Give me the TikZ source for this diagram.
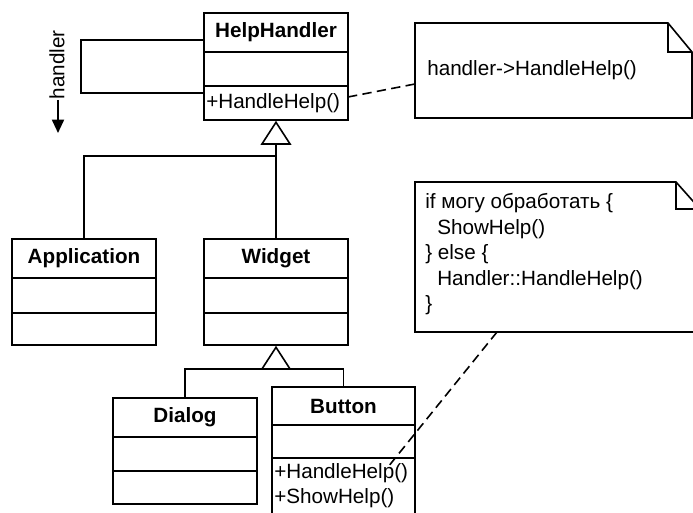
\documentclass[tikz,border=0pt]{standalone}
\usepackage{fontspec}
\setmainfont{Liberation Sans}
\usetikzlibrary{arrows.meta,fit,calc}
\begin{document}
\begin{tikzpicture}[x=0.75pt,y=-0.75pt, line join=miter,
  box/.style={draw, line width=1.2pt, inner sep=0pt},
  sep/.style={line width=1pt},
  ttl/.style={font=\fontsize{15.5}{18}\selectfont\bfseries, inner sep=0pt},
  txt/.style={font=\fontsize{15.5}{18}\selectfont, inner sep=0pt},
  inh/.style={line width=1.2pt, -{Triangle[open,length=18pt,width=23pt,line width=1.2pt]}},
  lnk/.style={line width=1.2pt},
  dsh/.style={line width=1.2pt, dash pattern=on 7pt off 4pt},
  notebox/.style={inner sep=0pt}]
\useasboundingbox (0,0) rectangle (693,513);

% HelpHandler
\node[box, fit={(204,13) (348,120)}] (hh) {};
\draw[sep] (204,52) -- (348,52) (204,86) -- (348,86);
\node[ttl] (hht) at (276,32.5) {HelpHandler};
\node[txt, anchor=west] (hhm) at (206,103) {+HandleHelp()};

% Application
\node[box, fit={(12,239) (156,345)}] (app) {};
\draw[sep] (12,278) -- (156,278) (12,313) -- (156,313);
\node[ttl] (appt) at (84,258.5) {Application};

% Widget
\node[box, fit={(204,239) (348,345)}] (wid) {};
\draw[sep] (204,278) -- (348,278) (204,313) -- (348,313);
\node[ttl] (widt) at (276,258.5) {Widget};

% Dialog
\node[box, fit={(113,398) (257,504)}] (dlg) {};
\draw[sep] (113,437) -- (257,437) (113,471) -- (257,471);
\node[ttl] (dlgt) at (185,417.5) {Dialog};

% Button
\node[box, fit={(272,387) (415,540)}] (btn) {};
\draw[sep] (272,425) -- (415,425) (272,458) -- (415,458);
\node[ttl] (btnt) at (343.5,406) {Button};
\node[txt, anchor=west] (btnm1) at (274,473) {+HandleHelp()};
\node[txt, anchor=west] (btnm2) at (274,498) {+ShowHelp()};

% self association
\coordinate (hhA) at (204,40);
\coordinate (hhB) at (204,93);
\coordinate (loopL) at (81,40);
\draw[lnk] (hhA) -- (loopL) |- (hhB);
\node[txt, rotate=90] (hlab) at (57,65) {handler};
\coordinate (harrA) at (58,100);
\coordinate (harrB) at (58,133);
\draw[line width=1.4pt, -{Triangle[length=10pt,width=9pt]}] (harrA) -- (harrB);

% inheritance
\coordinate (j1) at (276,156);
\draw[inh] (wid.north) -- (hh.south);
\draw[lnk] (app.north) |- (j1);
\coordinate (j2) at (276,369);
\draw[inh] (j2) -- (wid.south);
\draw[lnk] (dlg.north) |- (j2) -| (btn.north);

% note 1
\node[notebox, fit={(415,23) (692,118)}] (n1) {};
\draw[lnk] (415,23) -- (668,23) -- (692,52) -- (692,118) -- (415,118) -- cycle;
\draw[lnk] (668,23) -- (668,52) -- (692,52);
\node[txt, anchor=west] (n1t) at (427,70) {handler->HandleHelp()};
\coordinate (d1a) at (348,97);
\coordinate (d1b) at (415,84);
\draw[dsh] (d1a) -- (d1b);

% note 2
\node[notebox, fit={(415,182) (700,332)}] (n2) {};
\draw[lnk] (415,182) -- (676,182) -- (700,209) -- (700,332) -- (415,332) -- cycle;
\draw[lnk] (676,182) -- (676,209) -- (700,209);
\node[txt, anchor=north west, align=left, font=\fontsize{15.5}{18.6}\selectfont] (n2t) at (425,193)
  {if могу обработать \{\\[0.6pt]
   \hspace*{9pt}ShowHelp()\\[0.6pt]
   \} else \{\\[0.6pt]
   \hspace*{9pt}Handler::HandleHelp()\\[0.6pt]
   \}};
\coordinate (d2a) at (497,332);
\coordinate (d2b) at (388,467);
\draw[dsh] (d2a) -- (d2b);
\end{tikzpicture}
\end{document}
